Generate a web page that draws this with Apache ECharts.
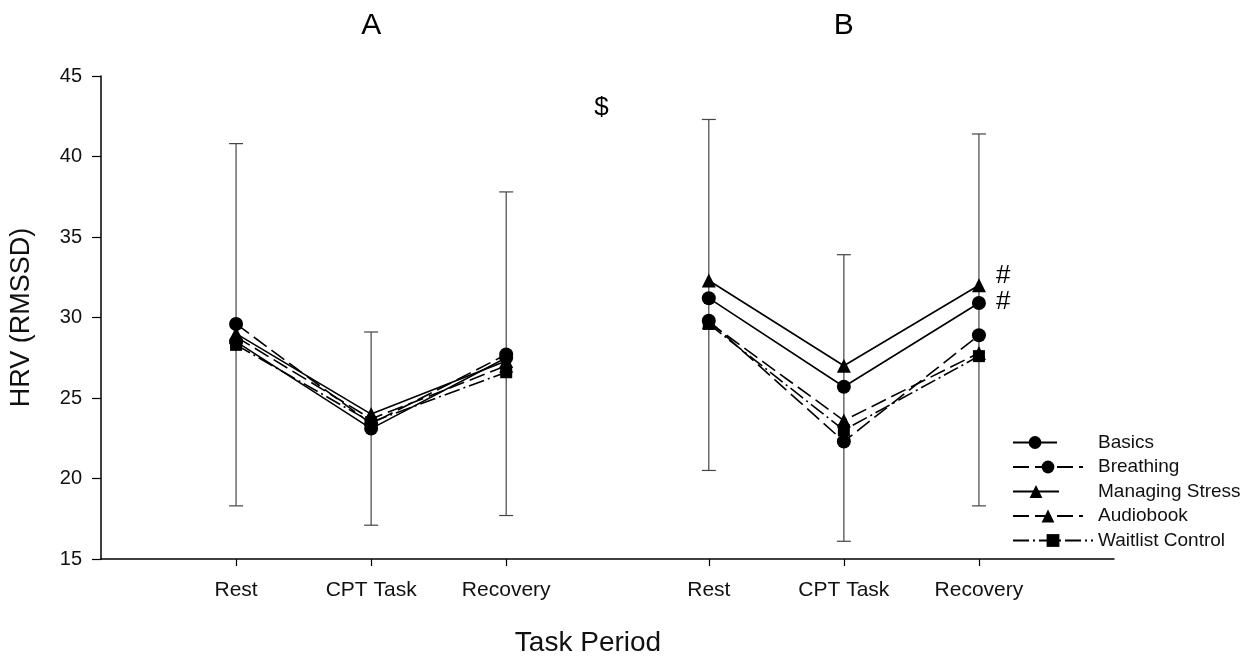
<!DOCTYPE html>
<html>
<head>
<meta charset="utf-8">
<script src="https://cdn.jsdelivr.net/npm/echarts@6/dist/echarts.min.js"></script>
<style>html,body{margin:0;padding:0;background:#fff;}#c{width:1248px;height:659px;}</style>
</head>
<body>
<div id="c"></div>
<script>
// Category slots at half-unit steps; empty strings are spacer slots
const categories = ['', '', 'Rest', '', 'CPT Task', '', 'Recovery', '', '', 'Rest', '', 'CPT Task', '', 'Recovery', '', ''];
const pointSlots = [2, 4, 6, 9, 11, 13];   // A: Rest, CPT, Recovery | B: Rest, CPT, Recovery
const gapSlot = 8;
const yTicks = [15, 20, 25, 30, 35, 40, 45];

const seriesNames = ['Basics', 'Breathing', 'Managing Stress', 'Audiobook', 'Waitlist Control'];
const basics    = [28.5, 23.1, 27.5, 31.2, 25.7, 30.9];
const breathing = [29.6, 23.4, 27.7, 29.8, 22.3, 28.9];
const managing  = [29.0, 24.0, 27.3, 32.3, 27.0, 32.0];
const audiobook = [28.8, 23.7, 27.0, 29.7, 23.6, 27.8];
const waitlist  = [28.3, 23.5, 26.6, 29.6, 23.0, 27.6];
const errLow    = [18.3, 17.1, 17.7, 20.5, 16.1, 18.3];
const errHigh   = [40.8, 29.1, 37.8, 42.3, 33.9, 41.4];

const panelLabels = [{slot: 4, text: 'A'}, {slot: 11, text: 'B'}];
const annotations = [{slot: 7.41, y: 43.0, text: '$'}, {slot: 13.36, y: 32.6, text: '#'}, {slot: 13.36, y: 31.0, text: '#'}];

const FONT = 'Liberation Sans, Arial, sans-serif';

function toData(vals) {
  const d = [];
  vals.forEach((v, i) => {
    if (i === 3) d.push([gapSlot, '-']);
    d.push([pointSlots[i], v]);
  });
  return d;
}

function lineSeries(name, vals, symbol, size, dash) {
  return {
    name: name, type: 'line', data: toData(vals), symbol: symbol, symbolSize: size,
    itemStyle: {color: '#000'},
    lineStyle: {color: '#000', width: 1.6, type: dash},
    z: 5, animation: false
  };
}

const chart = echarts.init(document.getElementById('c'), null, {renderer: 'canvas'});
const grid = {left: 100, right: 134, top: 76, bottom: 100};

// legend: one component per entry so icon widths can differ, text aligned at same x
const legendIconWidths = [44, 70, 46, 70, 80];
const legendLeft = 1012, legendTextX = 1097, legendFirstCenter = 442, legendStep = 24.5;
const legends = seriesNames.map((n, i) => ({
  orient: 'vertical', left: legendLeft, top: legendFirstCenter + i * legendStep - 9,
  itemWidth: legendIconWidths[i], itemHeight: 16, padding: 0,
  textStyle: {fontSize: 19, color: '#111', fontFamily: FONT,
    padding: [0, 0, 0, legendTextX - (legendLeft + legendIconWidths[i] + 5)]},
  data: [n]
}));

const option = {
  backgroundColor: '#fff',
  animation: false,
  grid: grid,
  xAxis: {
    type: 'category', data: categories, boundaryGap: false,
    axisLine: {lineStyle: {color: '#000', width: 1.5}},
    axisTick: {show: true, length: 7, lineStyle: {color: '#000', width: 1.2},
      interval: (i, v) => v !== ''},
    axisLabel: {interval: (i, v) => v !== '', margin: 21, fontSize: 21, color: '#111', fontFamily: FONT},
    splitLine: {show: false}
  },
  yAxis: {
    type: 'value', min: yTicks[0], max: yTicks[yTicks.length - 1], interval: 5,
    name: 'HRV (RMSSD)', nameLocation: 'middle', nameGap: 66,
    nameTextStyle: {fontSize: 27, color: '#111', fontFamily: FONT},
    axisLine: {show: true, lineStyle: {color: '#000', width: 1.5}},
    axisTick: {show: true, length: 9, lineStyle: {color: '#000', width: 1.2}},
    axisLabel: {margin: 19, fontSize: 20, color: '#111', fontFamily: FONT},
    splitLine: {show: false}
  },
  legend: legends,
  series: [
    {
      name: 'err', type: 'custom', z: 1,
      data: pointSlots.map((s, i) => [s, errLow[i], errHigh[i]]),
      renderItem: function (params, api) {
        const x = api.value(0);
        const lo = api.coord([x, api.value(1)]);
        const hi = api.coord([x, api.value(2)]);
        const hw = 7;
        const st = {stroke: '#444', lineWidth: 1.2};
        return {type: 'group', children: [
          {type: 'line', shape: {x1: lo[0], y1: lo[1], x2: hi[0], y2: hi[1]}, style: st},
          {type: 'line', shape: {x1: hi[0] - hw, y1: hi[1], x2: hi[0] + hw, y2: hi[1]}, style: st},
          {type: 'line', shape: {x1: lo[0] - hw, y1: lo[1], x2: lo[0] + hw, y2: lo[1]}, style: st}
        ]};
      }
    },
    lineSeries('Waitlist Control', waitlist, 'rect', 12, [16, 4, 2, 4]),
    lineSeries('Audiobook', audiobook, 'triangle', 14, [16, 6]),
    lineSeries('Breathing', breathing, 'circle', 14, [16, 6]),
    lineSeries('Managing Stress', managing, 'triangle', 14, 'solid'),
    lineSeries('Basics', basics, 'circle', 14, 'solid')
  ]
};
chart.setOption(option);

// place text annotations from data coordinates
function slotToPx(slot) {
  const a = Math.floor(slot), b = a + 1;
  const pa = chart.convertToPixel({xAxisIndex: 0}, a);
  const pb = chart.convertToPixel({xAxisIndex: 0}, b);
  return pa + (pb - pa) * (slot - a);
}
const graphics = [];
panelLabels.forEach(p => {
  graphics.push({type: 'text', x: slotToPx(p.slot), y: 26,
    style: {text: p.text, font: '30px ' + FONT, fill: '#000', textAlign: 'center', textVerticalAlign: 'middle'}});
});
annotations.forEach(a => {
  const y = chart.convertToPixel({yAxisIndex: 0}, a.y);
  graphics.push({type: 'text', x: slotToPx(a.slot), y: y,
    style: {text: a.text, font: '26px ' + FONT, fill: '#000', textAlign: 'center', textVerticalAlign: 'middle'}});
});
graphics.push({type: 'text', x: 588, y: 643,
  style: {text: 'Task Period', font: '28px ' + FONT, fill: '#111', textAlign: 'center', textVerticalAlign: 'middle'}});
chart.setOption({graphic: graphics});
</script>
</body>
</html>
